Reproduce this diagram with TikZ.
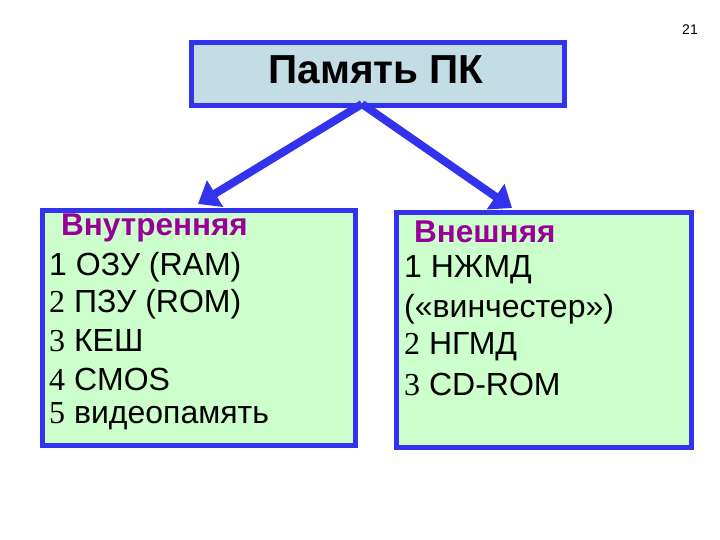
\documentclass[tikz,border=0pt]{standalone}
\usepackage{fontspec}
\setmainfont{Liberation Sans}
\newfontfamily\serifdig{Liberation Serif}
\usetikzlibrary{arrows.meta}
\definecolor{bord}{HTML}{3333EE}
\definecolor{topfill}{HTML}{C2DDE3}
\definecolor{greenfill}{HTML}{CCFFCC}
\definecolor{head}{HTML}{990099}
\tikzset{
 boxst/.style={draw=bord,line width=5pt,anchor=north west,inner sep=0pt},
 txt/.style={anchor=west,font=\fontsize{32}{35}\selectfont,inner sep=0pt},
 hd/.style={txt,text=head,font=\fontsize{31.5}{35}\selectfont\bfseries},
 conn/.style={draw=bord,line width=8pt,-{Triangle[length=20pt,width=30pt]}}
}
\begin{document}
\begin{tikzpicture}[x=1pt,y=-1pt]
\useasboundingbox (0,0) rectangle (720,540);
\node[font=\fontsize{14}{16}\selectfont,inner sep=0pt] (pg) at (690,30) {21};
\node[boxst,fill=topfill,minimum width=373pt,minimum height=63pt] (top) at (189,40) {};
\node[font=\fontsize{40.5}{45}\selectfont\bfseries] (tt) at (376,70) {Память ПК};
\node[boxst,fill=greenfill,minimum width=313pt,minimum height=235pt] (L) at (40,208) {};
\node[boxst,fill=greenfill,minimum width=295pt,minimum height=235pt] (R) at (394,210) {};
\coordinate (s) at (362,104);
\coordinate (le) at (198,204);
\coordinate (re) at (512,208);
\draw[conn] (s) -- (le);
\draw[conn] (s) -- (re);
\node[hd] (l0) at (61,228) {Внутренняя};
\node[txt] (l1) at (49,267) {1 ОЗУ (RAM)};
\node[txt] (l2) at (49,304) {{\serifdig 2} ПЗУ (ROM)};
\node[txt] (l3) at (49,341) {{\serifdig 3} КЕШ};
\node[txt] (l4) at (49,379) {{\serifdig 4} CMOS};
\node[txt] (l5) at (49,416) {{\serifdig 5} видеопамять};
\node[hd] (r0) at (414,232) {Внешняя};
\node[txt] (r1) at (404,270) {1 НЖМД};
\node[txt] (r2) at (404,309) {(«винчестер»)};
\node[txt] (r3) at (404,347) {{\serifdig 2} НГМД};
\node[txt] (r4) at (404,384) {{\serifdig 3} CD-ROM};
\end{tikzpicture}
\end{document}
